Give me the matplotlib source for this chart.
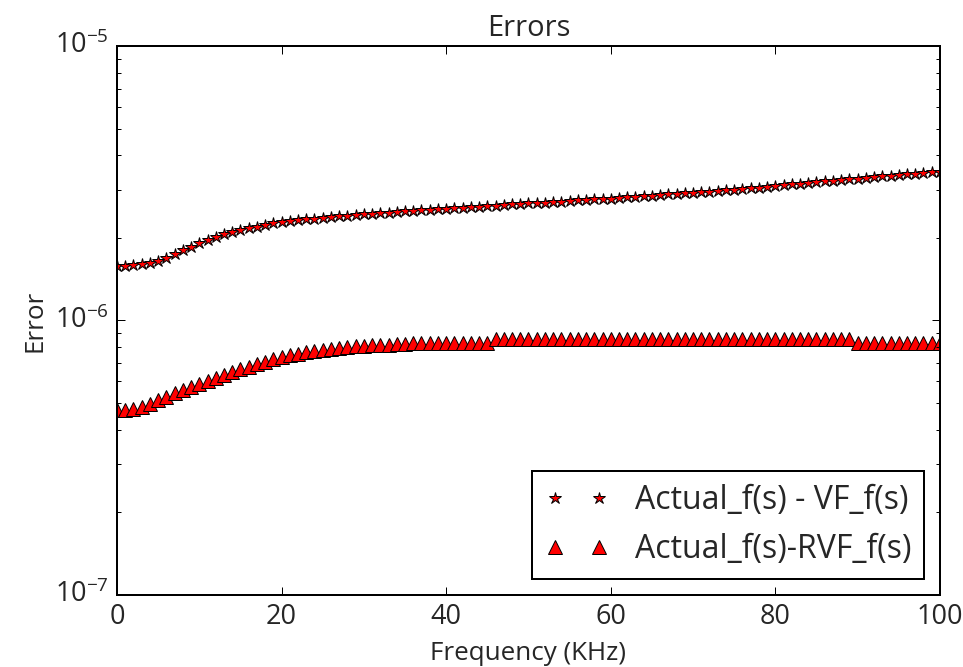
import numpy as np
import matplotlib
matplotlib.use('Agg')
import matplotlib.pyplot as plt


# Frequency points [KHz]
freq_khz = list(range(0, 101))

# |Actual_f(s) - VF_f(s)|
err_vf = [1.58, 1.58, 1.59, 1.60, 1.62, 1.65, 1.69, 1.74, 1.80, 1.86,
	1.92, 1.97, 2.02, 2.06, 2.10, 2.14, 2.17, 2.20, 2.23, 2.26,
	2.28, 2.30, 2.32, 2.34, 2.35, 2.37, 2.38, 2.40, 2.41, 2.42,
	2.44, 2.45, 2.46, 2.47, 2.48, 2.50, 2.51, 2.52, 2.53, 2.54,
	2.55, 2.56, 2.57, 2.59, 2.60, 2.61, 2.62, 2.63, 2.65, 2.66,
	2.67, 2.68, 2.69, 2.70, 2.71, 2.72, 2.74, 2.75, 2.76, 2.77,
	2.78, 2.80, 2.81, 2.82, 2.84, 2.85, 2.87, 2.88, 2.89, 2.91,
	2.92, 2.94, 2.95, 2.97, 2.98, 3.00, 3.02, 3.03, 3.05, 3.07,
	3.09, 3.11, 3.13, 3.15, 3.17, 3.19, 3.21, 3.23, 3.25, 3.27,
	3.29, 3.31, 3.33, 3.35, 3.37, 3.39, 3.41, 3.43, 3.45, 3.47,
	3.49]  # x 1e-6

# |Actual_f(s) - RVF_f(s)|
err_rvf = [4.70, 4.70, 4.75, 4.85, 4.97, 5.12, 5.28, 5.43, 5.58, 5.73,
	5.88, 6.03, 6.18, 6.33, 6.48, 6.63, 6.78, 6.93, 7.08, 7.22,
	7.36, 7.47, 7.57, 7.67, 7.75, 7.83, 7.89, 7.94, 7.99, 8.04,
	8.08, 8.11, 8.14, 8.17, 8.19, 8.21, 8.26, 8.26, 8.26, 8.26,
	8.26, 8.26, 8.26, 8.26, 8.26, 8.26, 8.58, 8.58, 8.58, 8.58,
	8.58, 8.58, 8.58, 8.58, 8.58, 8.58, 8.58, 8.58, 8.58, 8.58,
	8.58, 8.58, 8.58, 8.58, 8.58, 8.58, 8.58, 8.58, 8.58, 8.58,
	8.58, 8.58, 8.58, 8.58, 8.58, 8.58, 8.58, 8.58, 8.58, 8.58,
	8.58, 8.58, 8.58, 8.58, 8.58, 8.58, 8.58, 8.58, 8.58, 8.58,
	8.28, 8.28, 8.28, 8.28, 8.28, 8.28, 8.28, 8.28, 8.28, 8.28,
	8.28]  # x 1e-7

LABEL_VF = 'Actual_f(s) - VF_f(s)'
LABEL_RVF = 'Actual_f(s)-RVF_f(s)'

TEXT_COLOR = '#262626'


plt.style.use('classic')
plt.rcParams['font.family'] = ['Open Sans', 'DejaVu Sans']
plt.rcParams['mathtext.fontset'] = 'custom'
plt.rcParams['mathtext.rm'] = 'Open Sans'
plt.rcParams['mathtext.it'] = 'Open Sans:italic'
plt.rcParams['text.color'] = TEXT_COLOR
plt.rcParams['xtick.labelcolor'] = TEXT_COLOR
plt.rcParams['ytick.labelcolor'] = TEXT_COLOR
plt.rcParams['axes.labelcolor'] = TEXT_COLOR

fig = plt.figure(figsize=(963 / 144.0, 667 / 144.0), dpi=144, facecolor='white')
ax = fig.add_subplot(111)
fig.subplots_adjust(left=0.1215, right=0.976, top=0.931, bottom=0.108)

x = np.array(freq_khz)
ax.plot(x, np.array(err_vf) * 1e-6, 'r*', markersize=6.5, markeredgewidth=0.5,
	markeredgecolor='k', label=LABEL_VF)
ax.plot(x, np.array(err_rvf) * 1e-7, 'r^', markersize=7, markeredgewidth=0.5,
	markeredgecolor='k', label=LABEL_RVF)

ax.set_yscale('log')
ax.set_ylim(1e-7, 1e-5)
ax.set_xlim(0, 100)
ax.set_title('Errors', fontsize=14.5)
ax.set_xlabel('Frequency (KHz)', fontsize=13, labelpad=5)
ax.set_ylabel('Error', fontsize=13, labelpad=4)
ax.tick_params(labelsize=13.5)

ax.legend(loc='lower right', numpoints=2, fontsize=16)

fig.savefig('out.png', dpi=144, facecolor='white')
